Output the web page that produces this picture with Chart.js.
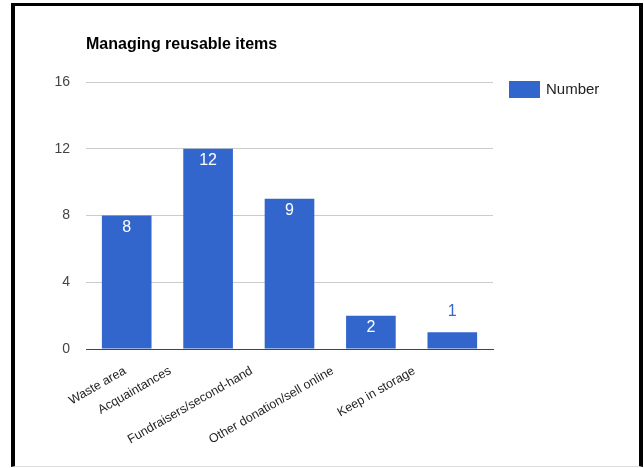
<!DOCTYPE html>
<html>
<head>
    <title>Managing reusable items</title>
    <style>
        html, body {
            margin: 0;
            padding: 0;
            background: #fff;
        }
        #wrap {
            position: relative;
            width: 644px;
            height: 468px;
            overflow: hidden;
        }
        #frame {
            position: absolute;
            left: 11px;
            top: 3px;
            width: 624px;
            height: 460px;
            border: 4px solid #000;
            border-top-width: 3px;
            border-bottom: 1px solid #ddd;
            pointer-events: none;
        }
        #reuseChart {
            position: absolute;
            left: 0;
            top: 0;
        }
    </style>
    <script src="https://cdn.jsdelivr.net/npm/chart.js"></script>
</head>
<body>
    <div id="wrap">
        <canvas id="reuseChart" width="644" height="468"></canvas>
        <div id="frame"></div>
    </div>
    <script>
        const categories = ['Waste area', 'Acquaintances', 'Fundraisers/second-hand', 'Other donation/sell online', 'Keep in storage'];
        const numbers = [8, 12, 9, 2, 1];
        const yTicks = [0, 4, 8, 12, 16];
        const seriesName = 'Number';
        const chartTitle = 'Managing reusable items';

        const BAR_BLUE = '#3366cc';
        const FONT = 'Arial, "Liberation Sans", sans-serif';

        // value printed inside the top of each bar, or just above it when the bar is too short
        const barValues = {
            id: 'barValues',
            afterDatasetsDraw(chart) {
                const ctx = chart.ctx;
                const meta = chart.getDatasetMeta(0);
                ctx.save();
                ctx.font = '16px ' + FONT;
                ctx.textAlign = 'center';
                ctx.textBaseline = 'middle';
                meta.data.forEach((bar, i) => {
                    const value = chart.data.datasets[0].data[i];
                    const h = bar.base - bar.y;
                    if (h > 24) {
                        ctx.fillStyle = '#ffffff';
                        ctx.fillText(String(value), bar.x, bar.y + 12);
                    } else {
                        ctx.fillStyle = BAR_BLUE;
                        ctx.fillText(String(value), bar.x, bar.y - 21);
                    }
                });
                ctx.restore();
            }
        };

        // slanted category labels: they end a little left of the tick,
        // but never start further left than the value axis labels
        const slantLabels = {
            id: 'slantLabels',
            afterDraw(chart) {
                const ctx = chart.ctx;
                const xs = chart.scales.x;
                const angle = Math.PI / 6;
                const minLeft = 70;
                ctx.save();
                ctx.font = '12.5px ' + FONT;
                ctx.fillStyle = '#222';
                ctx.textAlign = 'right';
                ctx.textBaseline = 'middle';
                chart.data.labels.forEach((label, i) => {
                    const cx = xs.getPixelForTick(i);
                    const w = ctx.measureText(label).width;
                    const endX = Math.max(cx - 38, minLeft + w * Math.cos(angle));
                    ctx.save();
                    ctx.translate(endX, xs.top + 21);
                    ctx.rotate(-angle);
                    ctx.fillText(label, 0, 0);
                    ctx.restore();
                });
                ctx.restore();
            }
        };

        // legend entry to the right of the plot, level with the top gridline
        const sideKey = {
            id: 'sideKey',
            afterDraw(chart) {
                const ctx = chart.ctx;
                const area = chart.chartArea;
                const ds = chart.data.datasets[0];
                const x = area.right + 16;
                const y = area.top - 1;
                ctx.save();
                ctx.fillStyle = ds.backgroundColor;
                ctx.fillRect(x, y, 31, 17);
                ctx.fillStyle = '#222';
                ctx.font = '15px ' + FONT;
                ctx.textAlign = 'left';
                ctx.textBaseline = 'middle';
                ctx.fillText(ds.label, x + 37, y + 9);
                ctx.restore();
            }
        };

        const ctx = document.getElementById('reuseChart').getContext('2d');
        new Chart(ctx, {
            type: 'bar',
            data: {
                labels: categories,
                datasets: [{
                    label: seriesName,
                    data: numbers,
                    backgroundColor: BAR_BLUE,
                    borderWidth: 0,
                    categoryPercentage: 1,
                    barPercentage: 0.61
                }]
            },
            options: {
                responsive: false,
                animation: false,
                layout: {
                    padding: { left: 0, top: 0, right: 151, bottom: 0 }
                },
                scales: {
                    x: {
                        grid: { display: false },
                        border: { display: true, color: '#444', width: 1 },
                        ticks: { display: false },
                        afterFit(scale) { scale.height = 119; }
                    },
                    y: {
                        min: 0,
                        max: 16,
                        grid: { color: '#cccccc', drawTicks: false },
                        border: { display: false },
                        afterBuildTicks(scale) {
                            scale.ticks = yTicks.map(v => ({ value: v }));
                        },
                        ticks: {
                            color: '#444',
                            font: { family: FONT, size: 14 },
                            padding: 16
                        },
                        afterFit(scale) { scale.width = 86; }
                    }
                },
                plugins: {
                    legend: { display: false },
                    tooltip: { enabled: false },
                    title: {
                        display: true,
                        text: chartTitle,
                        align: 'start',
                        fullSize: false,
                        color: '#000',
                        font: { family: FONT, size: 16, weight: 'bold', lineHeight: 1.2 },
                        padding: { top: 35.4, bottom: 27.4 }
                    }
                }
            },
            plugins: [barValues, slantLabels, sideKey]
        });
    </script>
</body>
</html>
